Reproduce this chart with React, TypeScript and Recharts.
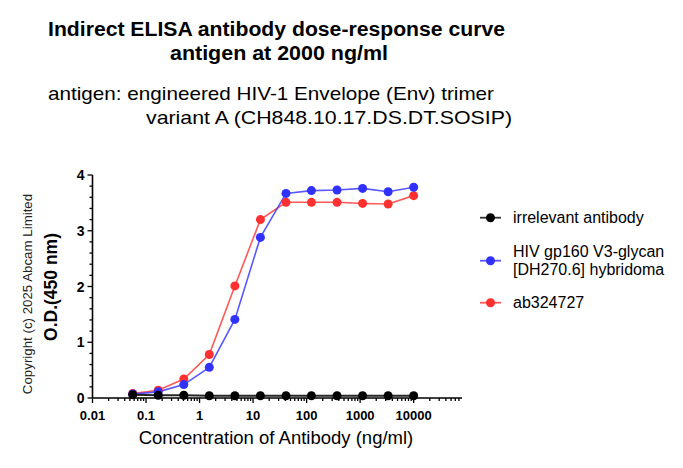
import React from 'react';
import { LineChart, Line, XAxis, YAxis } from 'recharts';

// ---- data ----
const concentrations = [0.0564, 0.169, 0.508, 1.52, 4.57, 13.7, 41.2, 123, 370, 1111, 3333, 10000];
const irrelevantOD = [0.06, 0.05, 0.05, 0.04, 0.04, 0.04, 0.04, 0.04, 0.04, 0.04, 0.04, 0.04];
const hivOD = [0.07, 0.11, 0.24, 0.55, 1.41, 2.88, 3.67, 3.72, 3.73, 3.76, 3.70, 3.78];
const abOD = [0.08, 0.14, 0.34, 0.78, 2.01, 3.20, 3.51, 3.51, 3.51, 3.49, 3.48, 3.63];

const xMajorTicks = [0.01, 0.1, 1, 10, 100, 1000, 10000];
const yMajorTicks = [0, 1, 2, 3, 4];

const seriesDefs = [
  { key: 'irrelevant', lines: ['irrelevant antibody'], color: '#000000' },
  { key: 'hiv', lines: ['HIV gp160 V3-glycan', '[DH270.6] hybridoma'], color: '#3030ff' },
  { key: 'ab', lines: ['ab324727'], color: '#ff3030' },
];

const titleLines = ['Indirect ELISA antibody dose-response curve', 'antigen at 2000 ng/ml'];
const subtitleLines = ['antigen: engineered HIV-1 Envelope (Env) trimer', 'variant A (CH848.10.17.DS.DT.SOSIP)'];
const xLabel = 'Concentration of Antibody (ng/ml)';
const yLabel = 'O.D.(450 nm)';
const copyright = 'Copyright (c) 2025 Abcam Limited';

const data = concentrations.map((c, i) => ({
  conc: c,
  irrelevant: irrelevantOD[i],
  hiv: hivOD[i],
  ab: abOD[i],
}));

// minor + major log ticks
const xAllTicks: number[] = [];
for (let e = -2; e <= 4; e++) {
  for (let m = 1; m <= 9; m++) {
    const v = parseFloat((m * Math.pow(10, e)).toPrecision(2));
    if (v <= 70000) xAllTicks.push(v);
  }
}
const yAllTicks: number[] = [];
for (let i = 0; i <= 20; i++) yAllTicks.push(parseFloat((i * 0.2).toFixed(1)));

const FONT = '"Liberation Sans", Arial, sans-serif';

const XTick = (props: any) => {
  const { x, y, payload } = props;
  const v = payload.value;
  const major = xMajorTicks.some((t) => Math.abs(t - v) / t < 1e-6);
  return (
    <g>
      <line x1={x} x2={x} y1={y} y2={y + (major ? 5 : 3)} stroke="#000" strokeWidth={1.3} />
      {major && (
        <text x={x} y={y + 22} textAnchor="middle" fontFamily={FONT} fontWeight="bold" fontSize={13} fill="#000">
          {String(v)}
        </text>
      )}
    </g>
  );
};

const YTick = (props: any) => {
  const { x, y, payload } = props;
  const v = payload.value;
  const major = yMajorTicks.some((t) => Math.abs(t - v) < 1e-6);
  return (
    <g>
      <line x1={x} x2={x - (major ? 5 : 3)} y1={y} y2={y} stroke="#000" strokeWidth={1.3} />
      {major && (
        <text x={x - 8} y={y + 5} textAnchor="end" fontFamily={FONT} fontWeight="bold" fontSize={14} fill="#000">
          {String(v)}
        </text>
      )}
    </g>
  );
};

export default function App() {
  const legendRowsY = [217.7, 260.7, 302.7];
  return (
    <div style={{ position: 'absolute', left: 0, top: 0, width: 683, height: 468, background: '#fff' }}>
      <LineChart
        width={683}
        height={468}
        data={data}
        margin={{ top: 175, left: 52.5, right: 221, bottom: 40 }}
      >
        <XAxis
          dataKey="conc"
          type="number"
          scale="log"
          domain={[0.01, 80000]}
          allowDataOverflow
          ticks={xAllTicks}
          interval={0}
          tick={<XTick />}
          tickLine={false}
          tickSize={0}
          tickMargin={0}
          height={30}
          axisLine={{ stroke: '#000', strokeWidth: 1.6 }}
        />
        <YAxis
          type="number"
          domain={[0, 4]}
          ticks={yAllTicks}
          interval={0}
          tick={<YTick />}
          tickLine={false}
          tickSize={0}
          tickMargin={0}
          width={40}
          axisLine={{ stroke: '#000', strokeWidth: 1.6 }}
        />
        {[...seriesDefs].reverse().map((s) => (
          <Line
            key={s.key}
            dataKey={s.key}
            type="linear"
            stroke={s.color}
            strokeOpacity={s.key === 'irrelevant' ? 0.85 : 0.8}
            strokeWidth={s.key === 'irrelevant' ? 2 : 1.6}
            dot={{ r: 4.5, fill: s.color, stroke: s.color, strokeWidth: 0, fillOpacity: 1 }}
            activeDot={false}
            isAnimationActive={false}
          />
        ))}
      </LineChart>
      <svg
        width={683}
        height={468}
        style={{ position: 'absolute', left: 0, top: 0, pointerEvents: 'none' }}
        fontFamily={FONT}
      >
        <text x={48} y={36} fontSize={20} fontWeight="bold" textLength={457} lengthAdjust="spacingAndGlyphs">
          {titleLines[0]}
        </text>
        <text x={170} y={60} fontSize={20} fontWeight="bold" textLength={218} lengthAdjust="spacingAndGlyphs">
          {titleLines[1]}
        </text>
        <text x={48} y={100} fontSize={19} textLength={446} lengthAdjust="spacingAndGlyphs">
          {subtitleLines[0]}
        </text>
        <text x={146} y={124} fontSize={19} textLength={366} lengthAdjust="spacingAndGlyphs">
          {subtitleLines[1]}
        </text>
        <text x={276} y={444} fontSize={18.5} textAnchor="middle">
          {xLabel}
        </text>
        <text
          x={0}
          y={0}
          fontSize={17.5}
          fontWeight="bold"
          textAnchor="middle"
          transform="translate(57,287) rotate(-90)"
        >
          {yLabel}
        </text>
        <text
          x={0}
          y={0}
          fontSize={13.3}
          textAnchor="middle"
          fill="#222"
          transform="translate(31.5,294) rotate(-90)"
        >
          {copyright}
        </text>
        {seriesDefs.map((s, i) => {
          const cy = legendRowsY[i];
          const n = s.lines.length;
          return (
            <g key={s.key}>
              <line x1={480} x2={501} y1={cy} y2={cy} stroke={s.color} strokeWidth={1.8} strokeOpacity={0.8} />
              <circle cx={490.5} cy={cy} r={4.5} fill={s.color} />
              {s.lines.map((ln, j) => (
                <text key={j} x={513} y={cy + 5.5 + (j - (n - 1) / 2) * 18.3} fontSize={16} fill="#000">
                  {ln}
                </text>
              ))}
            </g>
          );
        })}
      </svg>
    </div>
  );
}
